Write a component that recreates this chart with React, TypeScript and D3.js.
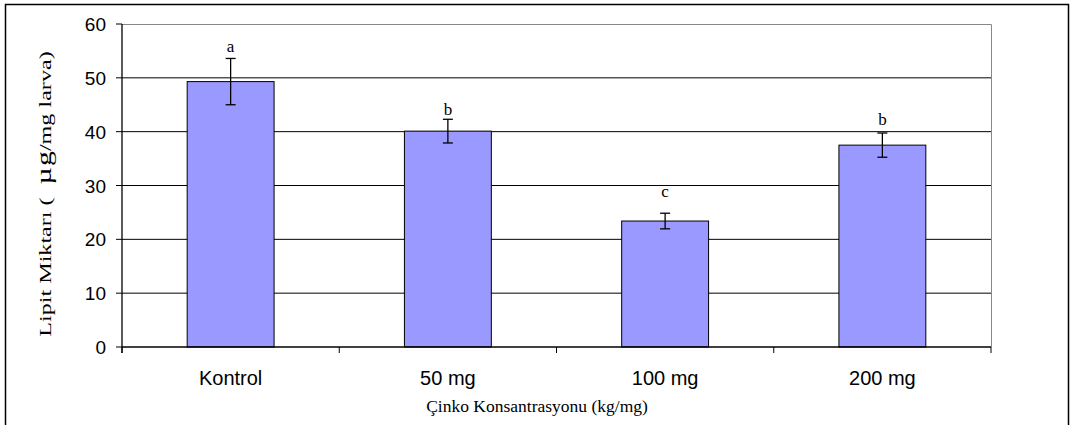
import React from "react";
import * as d3 from "d3";

const categories = ["Kontrol", "50 mg", "100 mg", "200 mg"];
const values = [49.3, 40.1, 23.4, 37.5];
const errors = [4.3, 2.2, 1.45, 2.25];
const letters = ["a", "b", "c", "b"];
const letterY = [54.8, 43.1, 27.8, 41.2];
const yTicks = [0, 10, 20, 30, 40, 50, 60];

const W = 1076;
const H = 425;
const left = 122;
const right = 991;
const top = 24;
const bottom = 347;

export default function App() {
  const x = d3.scaleBand<string>().domain(categories).range([left, right]).paddingInner(0.6).paddingOuter(0.3);
  const band = d3.scaleBand<string>().domain(categories).range([left, right]);
  const y = d3.scaleLinear().domain([0, 60]).range([bottom, top]);
  const sans = "Arial, 'Liberation Sans', sans-serif";
  const serif = "'Times New Roman', 'Liberation Serif', serif";
  const boundaries = [left, ...categories.map((c) => (band(c) as number) + band.bandwidth())];
  return (
    <svg width={W} height={H} style={{ position: "absolute", left: 0, top: 0, background: "#fff" }}>
      <rect x={0} y={0} width={W} height={H} fill="#fff" />
      {/* outer frame */}
      <path d={`M5.5,${H + 2} V4.5 H1068.5 V${H + 2}`} fill="none" stroke="#000" strokeWidth={1.5} />
      {/* plot area border */}
      <path d={`M${left},${top + 0.5} H${right + 0.5} V${bottom}`} fill="none" stroke="#888" strokeWidth={1} />
      {/* gridlines */}
      {yTicks.filter((t) => t > 0 && t < 60).map((t) => (
        <line key={t} x1={left} x2={right} y1={y(t)} y2={y(t)} stroke="#000" strokeWidth={1} />
      ))}
      {/* bars */}
      {categories.map((c, i) => (
        <rect key={c} x={x(c)} y={y(values[i])} width={x.bandwidth()} height={y(0) - y(values[i])}
          fill="#9999FF" stroke="#000" strokeWidth={1} />
      ))}
      {/* error bars */}
      {categories.map((c, i) => {
        const cx = (x(c) as number) + x.bandwidth() / 2;
        const y1 = y(values[i] + errors[i]);
        const y2 = y(values[i] - errors[i]);
        return (
          <g key={c} stroke="#000" strokeWidth={1.3}>
            <line x1={cx} x2={cx} y1={y1} y2={y2} />
            <line x1={cx - 5} x2={cx + 5} y1={y1} y2={y1} />
            <line x1={cx - 5} x2={cx + 5} y1={y2} y2={y2} />
          </g>
        );
      })}
      {/* letters */}
      {categories.map((c, i) => (
        <text key={c} x={(x(c) as number) + x.bandwidth() / 2} y={y(letterY[i])} textAnchor="middle"
          fontFamily={serif} fontSize={17} fill="#000">{letters[i]}</text>
      ))}
      {/* y axis */}
      <line x1={left} x2={left} y1={top} y2={bottom + 6} stroke="#000" strokeWidth={1.3} />
      {yTicks.map((t) => (
        <g key={t}>
          <line x1={left - 6} x2={left} y1={y(t)} y2={y(t)} stroke="#000" strokeWidth={1} />
          <text x={left - 16} y={y(t) + 7} textAnchor="end" fontFamily={sans} fontSize={19} fill="#000">{t}</text>
        </g>
      ))}
      {/* x axis */}
      <line x1={left} x2={right} y1={bottom} y2={bottom} stroke="#000" strokeWidth={1.3} />
      {boundaries.map((b, i) => (
        <line key={i} x1={b} x2={b} y1={bottom} y2={bottom + 6} stroke="#000" strokeWidth={1} />
      ))}
      {categories.map((c) => (
        <text key={c} x={(band(c) as number) + band.bandwidth() / 2} y={385} textAnchor="middle"
          fontFamily={sans} fontSize={20} fill="#000">{c}</text>
      ))}
      <text x={537} y={412} textAnchor="middle" fontFamily={serif} fontSize={17.5} fill="#000">Çinko Konsantrasyonu (kg/mg)</text>
      <text transform="translate(51,194) rotate(-90) scale(1.42,1)" textAnchor="middle" fontFamily={serif} fontSize={17} fill="#000">
        Lipit Miktarı (<tspan dx={9} fontSize={21}>µ</tspan><tspan dx={1} fontSize={21}>g</tspan>/mg larva)
      </text>
    </svg>
  );
}
